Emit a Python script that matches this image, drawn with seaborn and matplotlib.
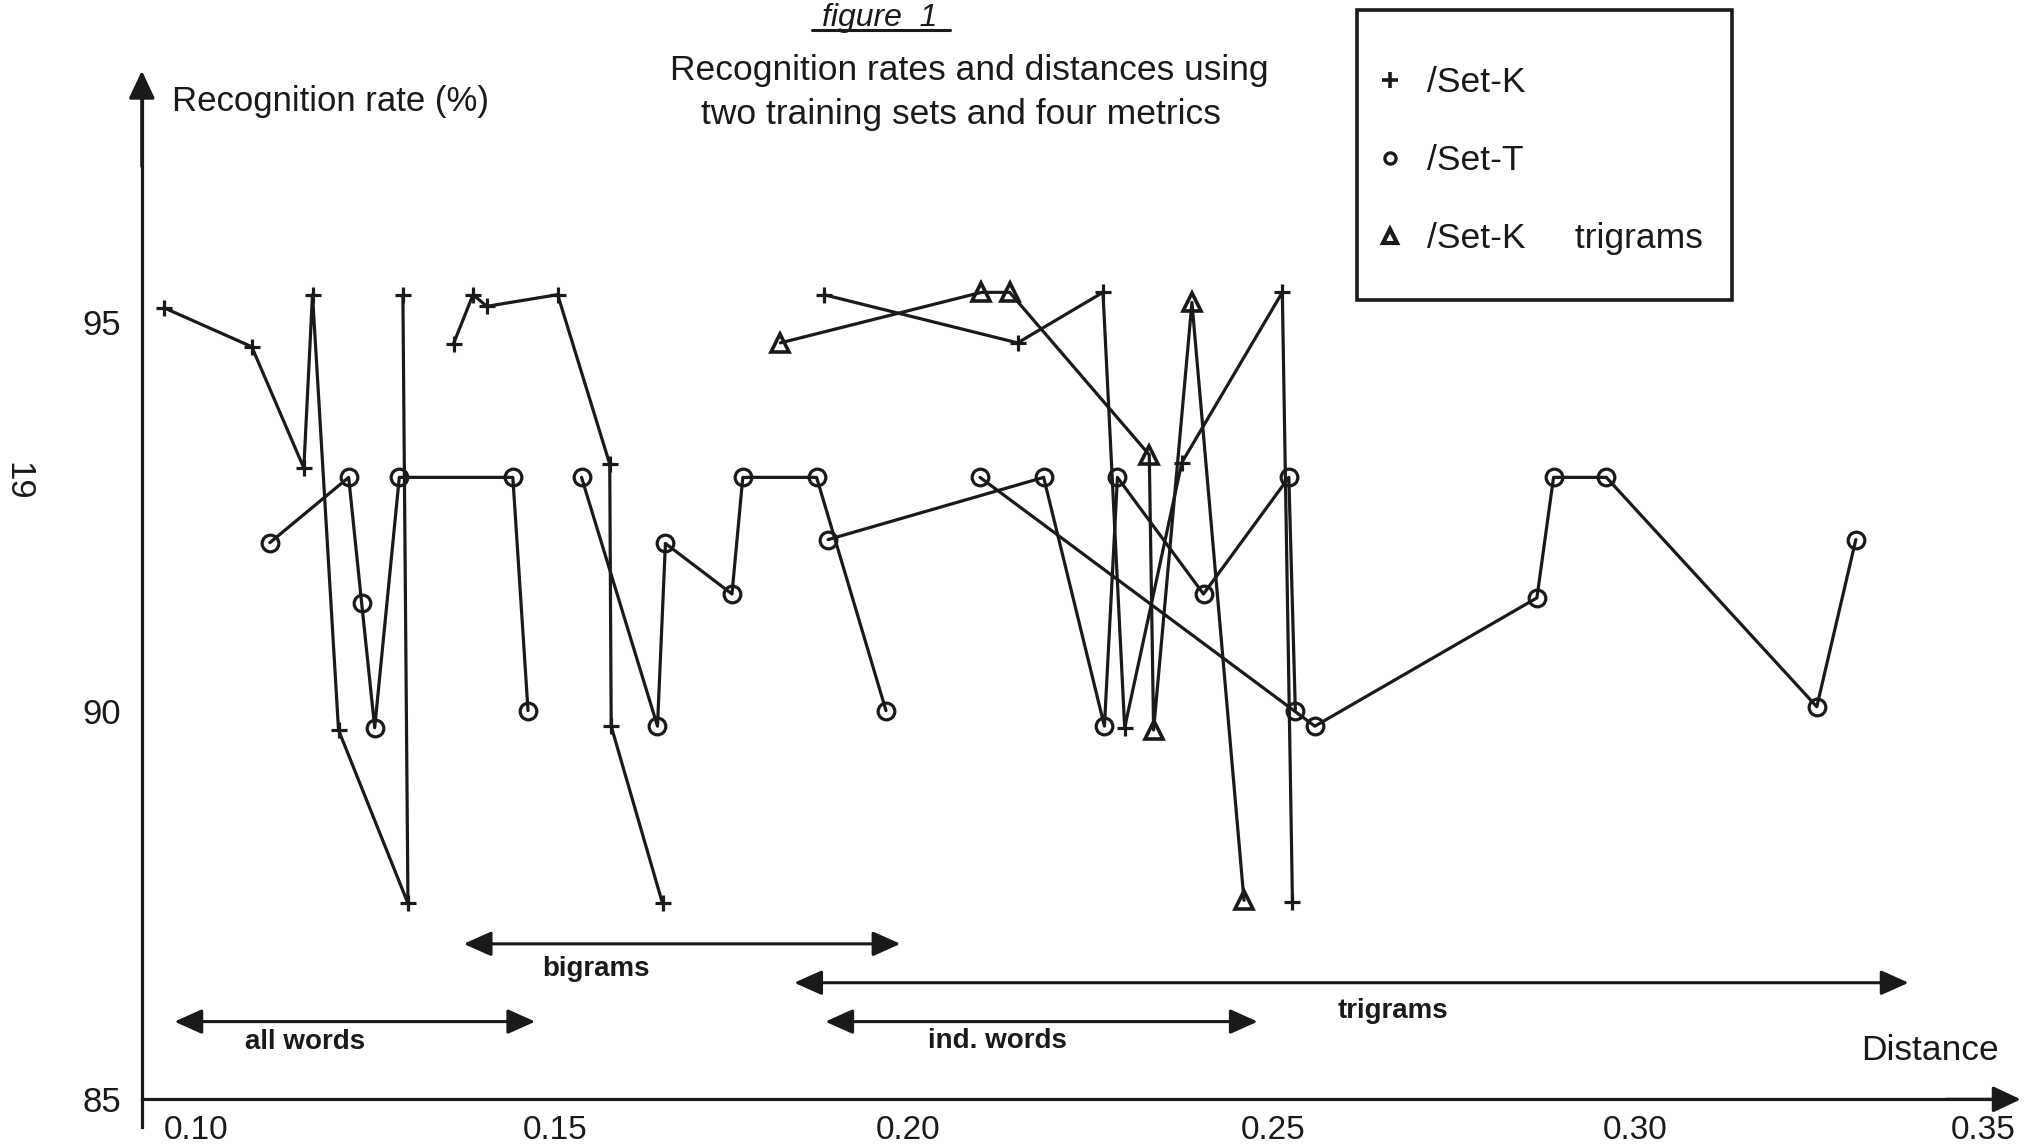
import numpy as np
import pandas as pd
import matplotlib
matplotlib.use("Agg")
import matplotlib.pyplot as plt
import seaborn as sns
from matplotlib.lines import Line2D
from matplotlib.patches import Rectangle
from matplotlib.transforms import ScaledTranslation

# ---------------- data ----------------
# /Set-K  (+ markers), three metric curves of 7 points each
setk_dist = [0.0986, 0.1107, 0.1179, 0.1191, 0.1227, 0.1323, 0.1316,
             0.1386, 0.1413, 0.1432, 0.1530, 0.1602, 0.1604, 0.1675,
             0.1898, 0.2166, 0.2284, 0.2314, 0.2393, 0.2532, 0.2546]
setk_rate = [95.18, 94.68, 93.12, 95.35, 89.75, 87.52, 95.35,
             94.72, 95.35, 95.20, 95.35, 93.17, 89.80, 87.52,
             95.35, 94.73, 95.38, 89.78, 93.19, 95.38, 87.54]
setk_curve = [1] * 7 + [2] * 7 + [3] * 7

# /Set-T  (o markers), four curves of 7 points each
sett_dist = [0.1132, 0.1241, 0.1259, 0.1277, 0.1311, 0.1468, 0.1489,
             0.1563, 0.1668, 0.1679, 0.1771, 0.1786, 0.1888, 0.1984,
             0.1904, 0.2202, 0.2286, 0.2304, 0.2423, 0.2541, 0.2550,
             0.2114, 0.2577, 0.2884, 0.2907, 0.2980, 0.3271, 0.3325]
sett_rate = [92.16, 93.00, 91.38, 89.78, 93.00, 93.00, 90.00,
             93.00, 89.80, 92.15, 91.50, 93.00, 93.00, 90.00,
             92.20, 93.00, 89.80, 93.00, 91.50, 93.00, 90.00,
             93.00, 89.80, 91.45, 93.00, 93.00, 90.05, 92.20]
sett_curve = [1] * 7 + [2] * 7 + [3] * 7 + [4] * 7

# /Set-K trigrams (triangle markers)
setkt_dist = [0.1838, 0.2116, 0.2155, 0.2348, 0.2354, 0.2407, 0.2479]
setkt_rate = [94.73, 95.38, 95.38, 93.29, 89.75, 95.25, 87.56]
setkt_curve = [1] * 7

legend_labels = ["/Set-K", "/Set-T", "/Set-K     trigrams"]

# feature-type ranges along the distance axis
range_names = ["bigrams", "trigrams", "all words", "ind. words"]
range_start = [0.1400, 0.1857, 0.1000, 0.1900]
range_end = [0.2004, 0.3398, 0.1499, 0.2498]
range_level = [87.0, 86.5, 86.0, 86.0]

xtick_vals = [0.10, 0.15, 0.20, 0.25, 0.30, 0.35]
xtick_labels = ["0.10", "0.15", "0.20", "0.25", "0.30", "0.35"]
ytick_vals = [85, 90, 95]
ytick_labels = ["85", "90", "95"]

# ---------------- style ----------------
sns.set_theme(style="white")
plt.rcParams["font.family"] = ["Liberation Sans", "DejaVu Sans"]

W, H = 2025, 1146
fig = plt.figure(figsize=(W / 100, H / 100), dpi=100)
ax = fig.add_axes([0, 0, 1, 1])
ax.set_facecolor("white")
ax.set_xlim(0.07589, 0.35589)
ax.set_ylim(84.40, 99.14)

lw = 2.3
df_k = pd.DataFrame({"distance": setk_dist, "rate": setk_rate, "curve": setk_curve})
df_t = pd.DataFrame({"distance": sett_dist, "rate": sett_rate, "curve": sett_curve})
df_kt = pd.DataFrame({"distance": setkt_dist, "rate": setkt_rate, "curve": setkt_curve})

sns.lineplot(data=df_k, x="distance", y="rate", units="curve", estimator=None,
             sort=False, color="k", lw=lw, marker="+", markersize=12,
             markeredgecolor="k", markeredgewidth=2.3, ax=ax, legend=False)
sns.lineplot(data=df_t, x="distance", y="rate", units="curve", estimator=None,
             sort=False, color="k", lw=lw, marker="o", markersize=12,
             markerfacecolor="none", markeredgecolor="k",
             markeredgewidth=2.3, ax=ax, legend=False)
sns.lineplot(data=df_kt, x="distance", y="rate", units="curve", estimator=None,
             sort=False, color="k", lw=lw, marker="^", markersize=13,
             markerfacecolor="none", markeredgecolor="k",
             markeredgewidth=2.6, ax=ax, legend=False)

# ---------------- axes ----------------
x_axis_pos = 0.0955
for s in ["top", "right"]:
    ax.spines[s].set_visible(False)
ax.spines["left"].set_position(("data", x_axis_pos))
ax.spines["bottom"].set_position(("data", 85))
ax.spines["left"].set_bounds(84.65, 98.0)
ax.spines["bottom"].set_bounds(x_axis_pos, 0.352)
for s in ["left", "bottom"]:
    ax.spines[s].set_linewidth(lw)
    ax.spines[s].set_color("k")

ax.set_xticks(xtick_vals, xtick_labels)
ax.set_yticks(ytick_vals, ytick_labels)
ax.tick_params(axis="x", direction="inout", length=14, width=lw,
               labelsize=24, pad=4, colors="k")
ax.tick_params(axis="y", direction="inout", length=12, width=lw,
               labelsize=25, pad=9, colors="k")
label_shift_px = [22, 19, 10, 14, 14, 1]
for lab, sh in zip(ax.get_xticklabels(), label_shift_px):
    lab.set_transform(lab.get_transform()
                      + ScaledTranslation(sh / 100, 0, fig.dpi_scale_trans))

head = "-|>,head_length=0.85,head_width=0.4"
ax.annotate("", xy=(0.3553, 85), xytext=(0.345, 85),
            arrowprops=dict(arrowstyle=head, mutation_scale=20, lw=lw,
                            color="k", shrinkA=0, shrinkB=0))
ax.annotate("", xy=(x_axis_pos, 98.23), xytext=(x_axis_pos, 97.0),
            arrowprops=dict(arrowstyle=head, mutation_scale=20, lw=lw,
                            color="k", shrinkA=0, shrinkB=0))

ax.set_ylabel("Recognition rate (%)", rotation=0, ha="left", va="baseline",
              fontsize=25, color="k")
ax.yaxis.set_label_coords(172 / W, 1 - 111 / H)
ax.set_xlabel("Distance", ha="center", va="center", fontsize=25.5, color="k")
ax.xaxis.set_label_coords((0.3427 - 0.07589) / 0.28, 1 - 1051 / H)

# ---------------- range arrows ----------------
dbl = "<|-|>,head_length=0.85,head_width=0.38"
label_anchor = [(0.1583, 86.68), (0.2685, 86.13), (0.1181, 85.74), (0.2138, 85.75)]
for name, a, b, lev, (lx, ly) in zip(range_names, range_start, range_end,
                                      range_level, label_anchor):
    ax.annotate("", xy=(a, lev), xytext=(b, lev),
                arrowprops=dict(arrowstyle=dbl, mutation_scale=20, lw=2.2,
                                color="k", shrinkA=0, shrinkB=0))
    ax.text(lx, ly, name, ha="center", va="center", fontsize=20,
            fontweight="bold", color="k")

# ---------------- legend ----------------
handles = [
    Line2D([], [], ls="none", marker="+", ms=11, mew=2.6, color="k"),
    Line2D([], [], ls="none", marker="o", ms=8, mfc="none", mec="k", mew=2.4),
    Line2D([], [], ls="none", marker="^", ms=10, mfc="none", mec="k", mew=3.0),
]
leg = ax.legend(handles, legend_labels, loc="upper left",
                bbox_to_anchor=(1372 / W, 1 - 66.5 / H), bbox_transform=fig.transFigure,
                frameon=False, fontsize=25.5, handlelength=1.0, handletextpad=0.54,
                labelspacing=1.27, borderpad=0, borderaxespad=0)
for t in leg.get_texts():
    t.set_color("k")
fig.add_artist(Rectangle((1357 / W, 1 - 300 / H), 375 / W, 290 / H,
                         transform=fig.transFigure, fill=False, lw=2.6, ec="k"))

# ---------------- titles / misc text ----------------
fig.text(969 / W, 1 - 80 / H, "Recognition rates and distances using",
         ha="center", va="baseline", fontsize=25.5, color="k")
fig.text(960.5 / W, 1 - 124 / H, "two training sets and four metrics",
         ha="center", va="baseline", fontsize=25.5, color="k")
fig.text(880 / W, 1 - 26 / H, "figure  1", style="italic", ha="center",
         va="baseline", fontsize=23, color="k")
fig.add_artist(Line2D([812 / W, 950 / W], [1 - 30 / H] * 2,
                      transform=fig.transFigure, lw=2.2, color="k"))
fig.text(18 / W, 1 - 481 / H, "19", rotation=270, ha="center", va="center",
         fontsize=25, color="k")

fig.savefig("out.png", dpi=100, facecolor="white")
